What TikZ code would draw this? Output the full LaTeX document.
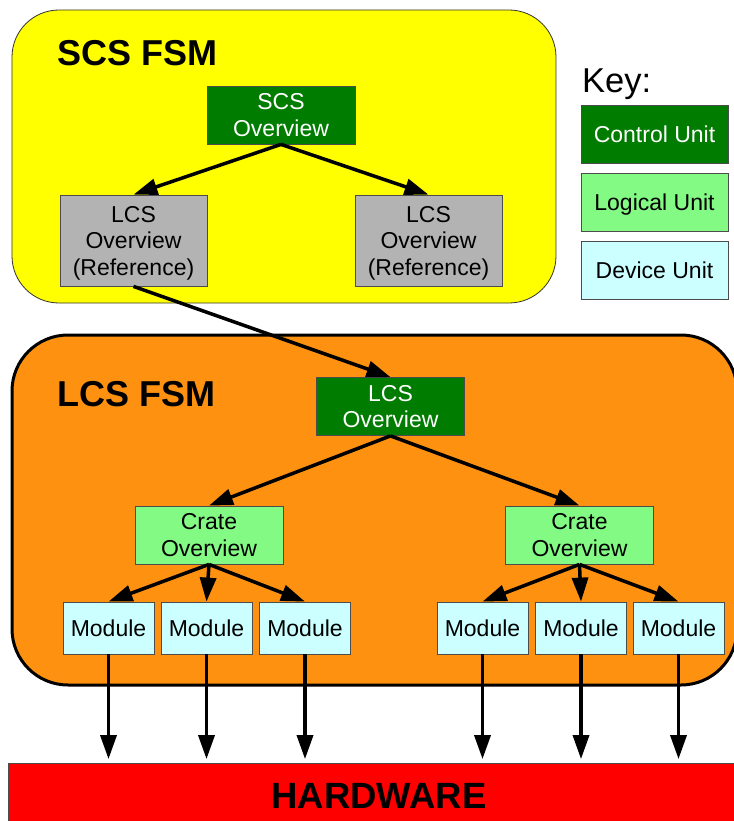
\documentclass[tikz,border=0pt]{standalone}
\usepackage{fontspec}
\setmainfont{Liberation Sans}
\usetikzlibrary{arrows.meta}
\definecolor{ctrlgreen}{HTML}{007C00}
\definecolor{logicgreen}{HTML}{83FA83}
\definecolor{devcyan}{HTML}{CCFFFF}
\definecolor{refgray}{HTML}{B3B3B3}
\definecolor{scsyellow}{HTML}{FFFF00}
\definecolor{lcsorange}{HTML}{FE9210}
\definecolor{hwred}{HTML}{FF0000}
% keep descenders from pushing a line upwards inside its box
\newcommand{\nodepth}[1]{\raisebox{0pt}[\height][0pt]{#1}}
\begin{document}
\begin{tikzpicture}[x=1pt,y=-1pt,
  unit/.style={draw=black!70, line width=0.8pt, align=center, inner sep=0pt,
    font=\fontsize{23}{26.5}\selectfont},
  ctrl/.style={unit, fill=ctrlgreen, text=white, minimum width=148pt, minimum height=58pt},
  logic/.style={unit, fill=logicgreen, minimum width=148pt, minimum height=58pt},
  device/.style={unit, fill=devcyan, minimum width=91pt, minimum height=52pt},
  refbox/.style={unit, fill=refgray, minimum width=147pt, minimum height=91pt},
  keybox/.style={unit, minimum width=147pt, minimum height=58pt},
  title/.style={font=\fontsize{36}{40}\selectfont\bfseries, anchor=base west, inner sep=0pt},
  link/.style={line width=3.5pt, -{Triangle[length=24pt,width=16pt]}},
]
\useasboundingbox (0,0) rectangle (733,821);

% containers
\draw[fill=scsyellow, draw=black!80, line width=0.8pt, rounded corners=47pt]
  (12,10) rectangle (556,303);
\draw[fill=lcsorange, draw=black, line width=3pt, rounded corners=56pt]
  (12,335) rectangle (737,685);
\node[draw=black!70, line width=0.8pt, fill=hwred, minimum width=737pt, minimum height=67pt,
  inner sep=0pt] (hw) at (376.5,796.5) {};
\node[font=\fontsize{36.5}{40}\selectfont\bfseries, anchor=base, inner sep=0pt]
  (hwlabel) at (379,808) {HARDWARE};

% titles
\node[title] (scstitle) at (57,66) {SCS FSM};
\node[title] (lcstitle) at (57,406) {LCS FSM};
\node[font=\fontsize{34.5}{38}\selectfont, anchor=base west, inner sep=0pt]
  (keytitle) at (582,93) {Key:};

% key
\node[keybox, fill=ctrlgreen, text=white] (kctrl) at (654.5,134) {Control Unit};
\node[keybox, fill=logicgreen] (klogic) at (654.5,202) {\nodepth{Logical Unit}};
\node[keybox, fill=devcyan] (kdev) at (654.5,270) {Device Unit};

% SCS level
\node[ctrl] (scs) at (281,115) {SCS\\Overview};
\node[refbox] (refl) at (133.5,240.5) {LCS\\Overview\\\nodepth{(Reference)}};
\node[refbox] (refr) at (428.5,240.5) {LCS\\Overview\\\nodepth{(Reference)}};

% LCS level
\node[ctrl] (lcs) at (390.5,406.5) {LCS\\Overview};
\node[logic] (cratel) at (209,535) {Crate\\Overview};
\node[logic] (crater) at (579.5,535) {Crate\\Overview};

\node[device] (m1) at (108.5,628) {Module};
\node[device] (m2) at (206.5,628) {Module};
\node[device] (m3) at (305,628) {Module};
\node[device] (m4) at (482.5,628) {Module};
\node[device] (m5) at (581,628) {Module};
\node[device] (m6) at (678.5,628) {Module};

% connectors
\draw[link] (scs.south) -- (refl.north);
\draw[link] (scs.south) -- (refr.north);
\draw[link] (refl.south) -- (lcs.north);
\draw[link] (lcs.south) -- (cratel.north);
\draw[link] (lcs.south) -- (crater.north);
\foreach \m in {m1,m2,m3} \draw[link] (cratel.south) -- (\m.north);
\foreach \m in {m4,m5,m6} \draw[link] (crater.south) -- (\m.north);
\foreach \m in {m1,m2,m3,m4,m5,m6}
  \draw[link, shorten >=3.5pt] (\m.south) -- (\m.south |- hw.north);
\end{tikzpicture}
\end{document}
